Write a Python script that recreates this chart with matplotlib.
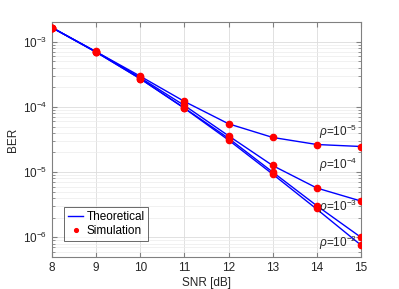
import numpy as np
import matplotlib.pyplot as plt

snr = [8, 9, 10, 11, 12, 13, 14, 15]
rho_labels = ["10^{-5}", "10^{-4}", "10^{-3}", "10^{-2}"]

# theoretical BER per rho
theo = [
    [1.64e-3, 7.0e-4, 2.95e-4, 1.21e-4, 5.5e-5, 3.4e-5, 2.65e-5, 2.47e-5],
    [1.64e-3, 7.0e-4, 2.8e-4, 1.05e-4, 3.6e-5, 1.26e-5, 5.7e-6, 3.6e-6],
    [1.64e-3, 6.9e-4, 2.7e-4, 9.6e-5, 3.3e-5, 1.0e-5, 3.05e-6, 1.0e-6],
    [1.64e-3, 6.9e-4, 2.7e-4, 9.5e-5, 3.1e-5, 9.3e-6, 2.7e-6, 7.6e-7],
]
# simulated BER per rho
sim = [
    [1.64e-3, 7.1e-4, 2.95e-4, 1.22e-4, 5.5e-5, 3.4e-5, 2.65e-5, 2.47e-5],
    [1.64e-3, 7.0e-4, 2.85e-4, 1.05e-4, 3.55e-5, 1.27e-5, 5.7e-6, 3.6e-6],
    [1.64e-3, 6.9e-4, 2.7e-4, 9.6e-5, 3.3e-5, 1.0e-5, 3.0e-6, 1.02e-6],
    [1.64e-3, 6.9e-4, 2.7e-4, 9.5e-5, 3.15e-5, 9.5e-6, 2.8e-6, 7.7e-7],
]
label_y = [4.2e-5, 1.3e-5, 2.9e-6, 8.3e-7]

plt.rcParams["font.family"] = ["Liberation Sans", "DejaVu Sans"]
plt.rcParams["mathtext.fontset"] = "custom"
plt.rcParams["mathtext.rm"] = "Liberation Sans"
plt.rcParams["mathtext.it"] = "Liberation Sans:italic"

fig = plt.figure(figsize=(3.99, 2.89), dpi=100)
ax = fig.add_axes([52 / 399, 1 - 257 / 289, 309 / 399, 235 / 289])

for i in range(4):
    ax.semilogy(snr, theo[i], color="blue", lw=1.0,
                label="Theoretical" if i == 0 else None, zorder=2)
    ax.semilogy(snr, sim[i], "o", color="red", ms=4.5, mec="red",
                label="Simulation" if i == 0 else None, zorder=3)
    ax.text(14.05, label_y[i], r"$\rho$=$\mathregular{" + rho_labels[i] + "}$",
            fontsize=8.5, color="#262626", va="center", ha="left")

ax.set_xlim(8, 15)
ax.set_ylim(5e-7, 2e-3)
ax.set_xticks(snr)
ax.grid(True, which="major", color="#dcdcdc", lw=0.6)
ax.grid(True, which="minor", color="#ececec", lw=0.5)
ax.tick_params(which="both", direction="in", top=True, right=True,
               colors="#808080", labelcolor="#262626", labelsize=8.5)
ax.tick_params(which="minor", length=2)
for s in ax.spines.values():
    s.set_color("#808080")
    s.set_linewidth(0.8)

ax.set_xlabel("SNR [dB]", fontsize=8.5, color="#262626", labelpad=2)
ax.set_ylabel("BER", fontsize=8.5, color="#262626", labelpad=3)

leg = ax.legend(loc="lower left", bbox_to_anchor=(0.04, 0.07), fontsize=8.5,
                frameon=True, fancybox=False, handlelength=1.3,
                handletextpad=0.3, borderpad=0.3, labelspacing=0.2,
                borderaxespad=0, markerscale=0.6)
leg.get_frame().set_edgecolor("#262626")
leg.get_frame().set_linewidth(0.6)

fig.savefig("out.png", dpi=100)
